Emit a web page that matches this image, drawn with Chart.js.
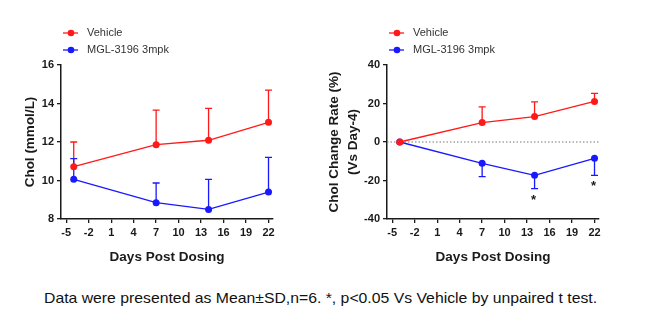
<!DOCTYPE html>
<html>
<head>
<meta charset="utf-8">
<script src="https://cdn.jsdelivr.net/npm/chart.js@4"></script>
<style>
  body { margin: 0; background: #fff; }
  #wrap { position: relative; width: 652px; height: 322px; overflow: hidden; }
  .panel { position: absolute; top: 0; width: 326px; height: 270px; }
  #caption {
    position: absolute; left: 44px; top: 289px; white-space: nowrap;
    font-family: "Liberation Sans Narrow", "Arial Narrow", "Liberation Sans", Arial, sans-serif;
    font-size: 15px; color: #111; transform-origin: left top;
  }
</style>
</head>
<body>
<div id="wrap">
  <div class="panel" style="left:0"><canvas id="cholChart" width="326" height="270"></canvas></div>
  <div class="panel" style="left:326px"><canvas id="changeChart" width="326" height="270"></canvas></div>
  <div id="caption">Data were presented as Mean±SD,n=6. *, p&lt;0.05 Vs Vehicle by unpaired t test.</div>
</div>
<script>
// data
const days = [-4, 7, 14, 22];
const xTicks = [-5, -2, 1, 4, 7, 10, 13, 16, 19, 22];

const cholVehicle = [10.72, 11.86, 12.09, 13.02];
const cholVehicleSD = [1.28, 1.80, 1.66, 1.67];
const cholMGL = [10.06, 8.85, 8.50, 9.40];
const cholMGLSD = [1.08, 1.02, 1.56, 1.80];
const cholTicks = [8, 10, 12, 14, 16];

const changeVehicle = [0, 10.1, 13.2, 21.1];
const changeVehicleSD = [0, 8.1, 7.6, 4.2];
const changeMGL = [0, -11.1, -17.3, -8.5];
const changeMGLSD = [0, 6.9, 6.9, 8.8];
const changeSig = ['', '', '*', '*'];
const changeTicks = [-40, -20, 0, 20, 40];

const seriesNames = ['Vehicle', 'MGL-3196 3mpk'];
const RED = 'rgb(255,25,25)';
const BLUE = 'rgb(25,25,255)';
const FONT = '"Liberation Sans", Arial, sans-serif';
const INK = '#1a1a1a';

Chart.defaults.font.family = FONT;
Chart.defaults.color = INK;

function points(vals) {
    return days.map((d, i) => ({ x: d, y: vals[i] }));
}

// one sided SD bars, plus the significance marks
const errorBars = {
    id: 'errorBars',
    beforeDatasetsDraw(chart) {
        const ctx = chart.ctx;
        const ys = chart.scales.y;
        chart.data.datasets.forEach((ds, di) => {
            const meta = chart.getDatasetMeta(di);
            ctx.save();
            ctx.strokeStyle = ds.borderColor;
            ctx.lineWidth = 1.3;
            meta.data.forEach((pt, i) => {
                const sd = ds.errors[i];
                if (!sd) return;
                const yEnd = ys.getPixelForValue(ds.data[i].y + ds.errDir * sd);
                ctx.beginPath();
                ctx.moveTo(pt.x, pt.y);
                ctx.lineTo(pt.x, yEnd);
                ctx.moveTo(pt.x - 3.5, yEnd);
                ctx.lineTo(pt.x + 3.5, yEnd);
                ctx.stroke();
            });
            ctx.restore();
        });
    },
    afterDatasetsDraw(chart) {
        const ctx = chart.ctx;
        const ys = chart.scales.y;
        chart.data.datasets.forEach((ds, di) => {
            if (!ds.marks) return;
            const meta = chart.getDatasetMeta(di);
            ctx.save();
            ctx.fillStyle = INK;
            ctx.font = 'bold 13px ' + FONT;
            ctx.textAlign = 'center';
            ctx.textBaseline = 'top';
            meta.data.forEach((pt, i) => {
                if (!ds.marks[i]) return;
                const yEnd = ys.getPixelForValue(ds.data[i].y + ds.errDir * ds.errors[i]);
                ctx.fillText(ds.marks[i], pt.x - 1, yEnd + 5);
            });
            ctx.restore();
        });
    }
};

// dotted line at zero (change chart only)
const zeroLine = {
    id: 'zeroLine',
    beforeDatasetsDraw(chart, args, opts) {
        if (!opts.show) return;
        const ctx = chart.ctx;
        const y = chart.scales.y.getPixelForValue(0);
        ctx.save();
        ctx.strokeStyle = '#777';
        ctx.lineWidth = 1;
        ctx.setLineDash([1.5, 2]);
        ctx.beginPath();
        ctx.moveTo(chart.chartArea.left, y);
        ctx.lineTo(chart.chartArea.right, y);
        ctx.stroke();
        ctx.restore();
    }
};

// legend with a line through the marker, like the original
const lineLegend = {
    id: 'lineLegend',
    afterDraw(chart) {
        const ctx = chart.ctx;
        ctx.save();
        chart.data.datasets.forEach((ds, i) => {
            const y = 33 + i * 17;
            ctx.strokeStyle = ds.borderColor;
            ctx.fillStyle = ds.borderColor;
            ctx.lineWidth = 1.3;
            ctx.beginPath();
            ctx.moveTo(63, y);
            ctx.lineTo(78, y);
            ctx.stroke();
            ctx.beginPath();
            ctx.arc(71, y, 3.3, 0, Math.PI * 2);
            ctx.fill();
            ctx.fillStyle = '#333';
            ctx.font = '11px ' + FONT;
            ctx.textBaseline = 'middle';
            ctx.fillText(ds.label, 87, y);
        });
        ctx.restore();
    }
};

function axisCommon() {
    return {
        grid: { drawOnChartArea: false, drawTicks: true, tickLength: 4, color: INK, lineWidth: 1.3 },
        border: { color: INK, width: 1.5 },
        ticks: { font: { size: 11, weight: 'bold' }, color: INK, autoSkip: false, maxRotation: 0 }
    };
}

function makeChart(id, cfg) {
    const x = axisCommon();
    const y = axisCommon();
    return new Chart(document.getElementById(id), {
        type: 'line',
        data: {
            datasets: [
                { label: seriesNames[0], data: points(cfg.vehicle), errors: cfg.vehicleSD, errDir: 1,
                  borderColor: RED, backgroundColor: RED },
                { label: seriesNames[1], data: points(cfg.mgl), errors: cfg.mglSD, errDir: cfg.mglDir,
                  marks: cfg.marks, borderColor: BLUE, backgroundColor: BLUE }
            ]
        },
        options: {
            responsive: false,
            animation: false,
            layout: { padding: { top: 65, left: 0, right: 53, bottom: 0 } },
            elements: {
                line: { borderWidth: 1.3, tension: 0 },
                point: { radius: 3.5, borderWidth: 0, hoverRadius: 3.5 }
            },
            scales: {
                x: Object.assign(x, {
                    type: 'linear', min: -5.7, max: 22.6,
                    afterBuildTicks: s => { s.ticks = xTicks.map(v => ({ value: v })); },
                    afterFit: s => { s.height = 51; },
                    title: { display: true, text: 'Days Post Dosing', color: INK,
                             font: { size: 13.5, weight: 'bold' }, padding: { top: 0, bottom: 5 } }
                }),
                y: Object.assign(y, {
                    min: cfg.ticks[0], max: cfg.ticks[cfg.ticks.length - 1],
                    afterBuildTicks: s => { s.ticks = cfg.ticks.map(v => ({ value: v })); },
                    afterFit: s => { s.width = 61; },
                    title: { display: true, text: cfg.yTitle, color: INK,
                             font: { size: 13.5, weight: 'bold', lineHeight: cfg.yLineHeight },
                             padding: { top: cfg.yTitlePad, bottom: 0 } }
                })
            },
            plugins: {
                legend: { display: false },
                tooltip: { enabled: false },
                zeroLine: { show: cfg.zero }
            }
        },
        plugins: [errorBars, zeroLine, lineLegend]
    });
}

makeChart('cholChart', {
    vehicle: cholVehicle, vehicleSD: cholVehicleSD,
    mgl: cholMGL, mglSD: cholMGLSD, mglDir: 1,
    ticks: cholTicks, yTitle: 'Chol (mmol/L)', yLineHeight: 1.2, yTitlePad: 22, zero: false
});

makeChart('changeChart', {
    vehicle: changeVehicle, vehicleSD: changeVehicleSD,
    mgl: changeMGL, mglSD: changeMGLSD, mglDir: -1, marks: changeSig,
    ticks: changeTicks, yTitle: ['Chol Change Rate (%)', '(Vs Day-4)'], yLineHeight: 1.4, yTitlePad: -1, zero: true
});

// squeeze the caption to the width it has in the original
const cap = document.getElementById('caption');
cap.style.transform = 'scaleX(' + (553 / cap.offsetWidth) + ')';
</script>
</body>
</html>
